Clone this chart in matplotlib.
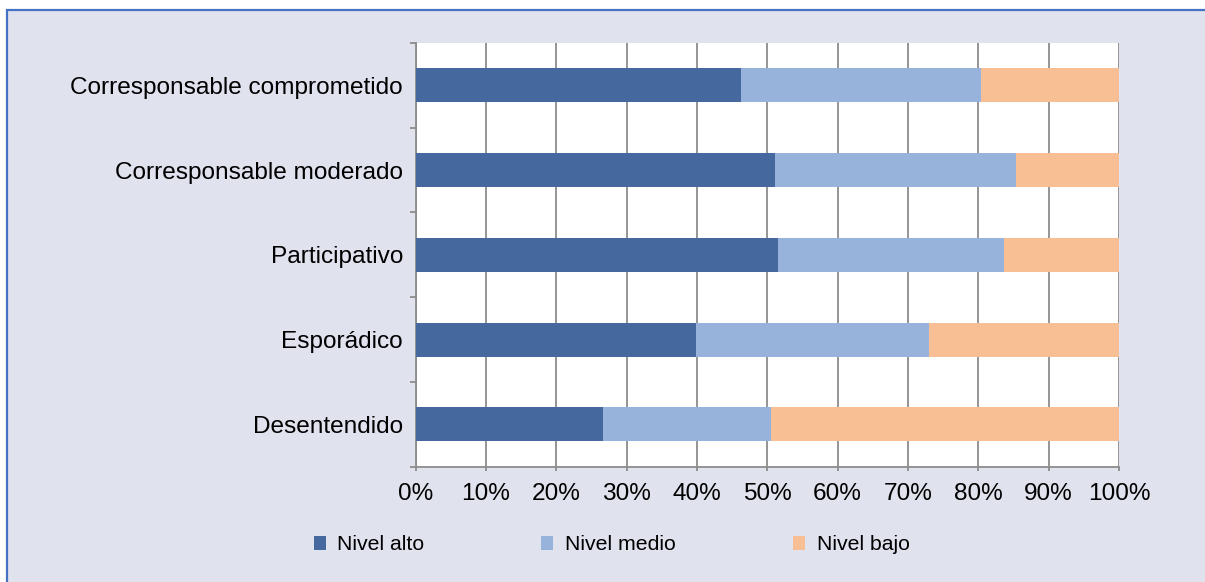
import matplotlib
matplotlib.use("Agg")
import matplotlib.pyplot as plt
from matplotlib.patches import Rectangle, Patch
from matplotlib.ticker import FixedLocator, PercentFormatter
import numpy as np

categories = ["Corresponsable comprometido", "Corresponsable moderado",
              "Participativo", "Esporádico", "Desentendido"]
nivel_alto = [46.2, 51.1, 51.5, 39.9, 26.7]
nivel_medio = [34.2, 34.2, 32.1, 33.1, 23.8]
nivel_bajo = [19.6, 14.7, 16.4, 27.0, 49.5]
series_names = ["Nivel alto", "Nivel medio", "Nivel bajo"]
colors = ["#45699F", "#97B3DC", "#F8BF94"]
xticks = list(range(0, 101, 10))

plt.rcParams['font.family'] = ['Liberation Sans', 'DejaVu Sans']

W, H = 1205, 582
fig = plt.figure(figsize=(W/100, H/100), dpi=100, facecolor="white")

# framed background (extends past right and bottom edges)
bg = Rectangle((7/W, -0.05), 1.1, 1.05 - 10/H, transform=fig.transFigure,
               facecolor="#E0E2EE", edgecolor="#4472C4", linewidth=1.6, zorder=-10)
fig.patches.append(bg)

ax = fig.add_axes([415.5/W, 1 - 466.7/H, (1119 - 415.5)/W, (466.7 - 43)/H])
ax.set_facecolor("white")

y = np.arange(len(categories))[::-1]
data = [nivel_alto, nivel_medio, nivel_bajo]
left = np.zeros(len(categories))
for vals, c, name in zip(data, colors, series_names):
    ax.barh(y, vals, left=left, height=0.4, color=c, label=name, zorder=3)
    left += np.array(vals)

ax.set_xlim(0, 100)
ax.set_ylim(-0.5, len(categories) - 0.5)
ax.set_xticks(xticks)
ax.xaxis.set_major_formatter(PercentFormatter(decimals=0))
ax.set_yticks(y)
ax.set_yticklabels(categories)
ax.yaxis.set_minor_locator(FixedLocator(np.arange(-0.5, len(categories), 1.0)))

ax.grid(axis="x", color="#8C8C8C", linewidth=1.3, zorder=1)
ax.set_axisbelow(True)
for s in ["top", "right"]:
    ax.spines[s].set_visible(False)
for s in ["left", "bottom"]:
    ax.spines[s].set_color("#8C8C8C")
    ax.spines[s].set_linewidth(1.3)

ax.tick_params(axis="y", which="major", length=0, pad=9, labelsize=17.6)
ax.tick_params(axis="y", which="minor", length=4.5, width=1.3, color="#8C8C8C", direction="out")
ax.tick_params(axis="x", which="major", length=3, width=1.3, color="#8C8C8C", pad=8.5, labelsize=17.6)

handles = [Patch(facecolor=c, edgecolor="none") for c in colors]
fig.legend(handles, series_names, loc="center", bbox_to_anchor=(611.5/W, 1 - 545/H),
           ncol=3, frameon=False, fontsize=15.3, handlelength=0.57, handleheight=0.57,
           handletextpad=0.55, columnspacing=5.5)

fig.savefig("out.png", dpi=100, facecolor="white")
